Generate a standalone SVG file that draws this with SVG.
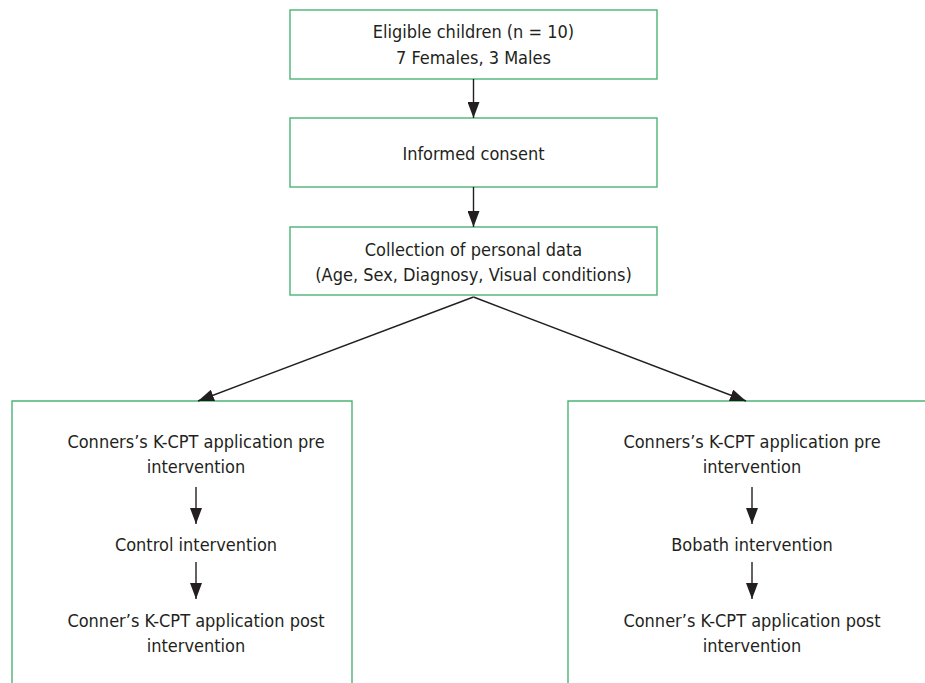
<svg xmlns="http://www.w3.org/2000/svg" width="925" height="683" viewBox="0 0 925 683">
<style>
.box{fill:#fff;stroke:#4cb276;stroke-width:1.4}
.t{font-family:"Liberation Sans Narrow","DejaVu Sans Condensed","Liberation Sans",sans-serif;font-size:18px;fill:#231f20;text-anchor:middle}
.c{stroke:#231f20;stroke-width:1.4;fill:none;marker-end:url(#ah)}
</style>
<defs>
<marker id="ah" viewBox="0 0 16 12" refX="16" refY="6" markerWidth="16" markerHeight="12" markerUnits="userSpaceOnUse" orient="auto">
<path d="M0,0 L16,6 L0,12 Z" fill="#231f20"/>
</marker>
</defs>
<rect width="925" height="683" fill="#fff"/>
<g id="n1"><rect class="box" x="290" y="10" width="367" height="69"/>
<text class="t" x="473.5" y="38">Eligible children (n = 10)</text>
<text class="t" x="473.5" y="64">7 Females, 3 Males</text></g>
<g id="n2"><rect class="box" x="290" y="118" width="367" height="69"/>
<text class="t" x="473.5" y="160">Informed consent</text></g>
<g id="n3"><rect class="box" x="290" y="227" width="367" height="68"/>
<text class="t" x="473.5" y="256">Collection of personal data</text>
<text class="t" x="473.5" y="281">(Age, Sex, Diagnosy, Visual conditions)</text></g>
<g id="left"><path class="box" d="M12,690 V401 H352 V690"/>
<text class="t" x="196" y="448">Conners’s K-CPT application pre</text>
<text class="t" x="196" y="473">intervention</text>
<text class="t" x="196" y="551">Control intervention</text>
<text class="t" x="196" y="627">Conner’s K-CPT application post</text>
<text class="t" x="196" y="652">intervention</text></g>
<g id="right"><path class="box" d="M568,690 V401 H930"/>
<text class="t" x="752" y="448">Conners’s K-CPT application pre</text>
<text class="t" x="752" y="473">intervention</text>
<text class="t" x="752" y="551">Bobath intervention</text>
<text class="t" x="752" y="627">Conner’s K-CPT application post</text>
<text class="t" x="752" y="652">intervention</text></g>
<g id="connectors">
<line class="c" x1="473.5" y1="79" x2="473.5" y2="118"/>
<line class="c" x1="473.5" y1="187" x2="473.5" y2="227"/>
<line class="c" x1="473.5" y1="297" x2="198" y2="401"/>
<line class="c" x1="473.5" y1="297" x2="746" y2="401"/>
<line class="c" x1="196" y1="487" x2="196" y2="524"/>
<line class="c" x1="196" y1="562" x2="196" y2="599"/>
<line class="c" x1="752" y1="487" x2="752" y2="524"/>
<line class="c" x1="752" y1="562" x2="752" y2="599"/>
</g>
</svg>
